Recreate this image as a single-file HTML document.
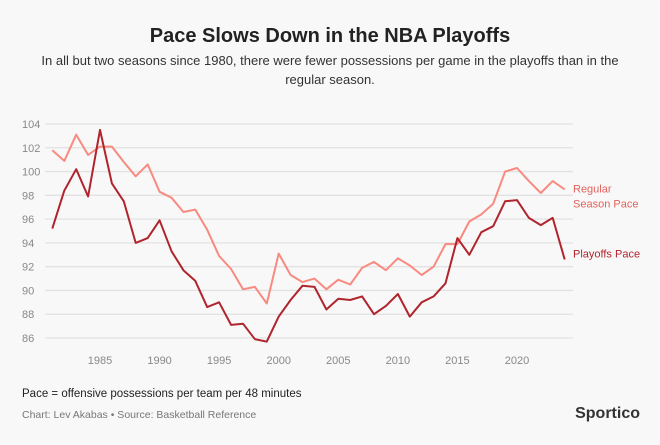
<!DOCTYPE html>
<html><head><meta charset="utf-8"><style>
body{margin:0;background:#f8f8f8;font-family:"Liberation Sans",sans-serif;}
#wrap{position:relative;width:660px;height:445px;background:#f8f8f8;overflow:hidden;}
</style></head><body>
<div id="wrap">
<svg id="chart" width="660" height="445">
<text x="330" y="42" text-anchor="middle" font-size="20" font-weight="bold" fill="#222">Pace Slows Down in the NBA Playoffs</text>
<text x="330" y="65" text-anchor="middle" font-size="13" fill="#333">In all but two seasons since 1980, there were fewer possessions per game in the playoffs than in the</text>
<text x="330" y="84" text-anchor="middle" font-size="13" fill="#333">regular season.</text>
<g id="grid"></g><g id="lines"></g>
<text x="22" y="397" font-size="11.5" fill="#222">Pace = offensive possessions per team per 48 minutes</text>
<text x="22" y="418" font-size="10.5" fill="#777">Chart: Lev Akabas • Source: Basketball Reference</text>
<text x="640" y="418" text-anchor="end" font-size="16" font-weight="bold" fill="#333">Sportico</text>
</svg>
</div>
<script>
const years=[1981,1982,1983,1984,1985,1986,1987,1988,1989,1990,1991,1992,1993,1994,1995,1996,1997,1998,1999,2000,2001,2002,2003,2004,2005,2006,2007,2008,2009,2010,2011,2012,2013,2014,2015,2016,2017,2018,2019,2020,2021,2022,2023,2024];
const regular=[101.8,100.9,103.1,101.4,102.1,102.1,100.8,99.6,100.6,98.3,97.8,96.6,96.8,95.1,92.9,91.8,90.1,90.3,88.9,93.1,91.3,90.7,91.0,90.1,90.9,90.5,91.9,92.4,91.7,92.7,92.1,91.3,92.0,93.9,93.9,95.8,96.4,97.3,100.0,100.3,99.2,98.2,99.2,98.5];
const playoffs=[95.2,98.4,100.2,97.9,103.5,99.0,97.5,94.0,94.4,95.9,93.3,91.7,90.8,88.6,89.0,87.1,87.2,85.9,85.7,87.8,89.2,90.4,90.3,88.4,89.3,89.2,89.5,88.0,88.7,89.7,87.8,89.0,89.5,90.6,94.4,93.0,94.9,95.4,97.5,97.6,96.1,95.5,96.1,92.6];
const yTicks=[86,88,90,92,94,96,98,100,102,104];
const xTicks=[1985,1990,1995,2000,2005,2010,2015,2020];
const NS="http://www.w3.org/2000/svg";
const x=v=>100+(v-1985)*(417/35);
const y=v=>338-(v-86)*(214/18);
const grid=document.getElementById('grid'),lines=document.getElementById('lines');
function mk(tag,attrs,parent){const e=document.createElementNS(NS,tag);for(const k in attrs)e.setAttribute(k,attrs[k]);parent.appendChild(e);return e;}
yTicks.forEach(t=>{
 const l=mk('line',{x1:45,x2:573,y1:y(t),y2:y(t),stroke:'#e2e2e2','stroke-width':1.3},grid);
 
 
 const tx=mk('text',{x:22,y:y(t)+4,'font-size':11,fill:'#888'},grid);tx.textContent=t;
 
 
});
xTicks.forEach(t=>{
 const tx=mk('text',{x:x(t),y:364,'font-size':11,fill:'#888','text-anchor':'middle'},grid);tx.textContent=t;
 
 
});
function path(vals,color,name){
 const d=vals.map((v,i)=>(i?'L':'M')+x(years[i]).toFixed(1)+','+y(v).toFixed(1)).join('');
 const p=mk('path',{d:d,fill:'none',stroke:color,'stroke-width':2,'stroke-linejoin':'round'},lines);
 
 
}
path(regular,'#f98a80','regular-season-line');
path(playoffs,'#b0252d','playoffs-line');
const last=years.length-1;
const l1=mk('text',{x:573,y:y(regular[last])+3,'font-size':11,fill:'#e0625c'},lines);l1.textContent='Regular';


const l2=mk('text',{x:573,y:y(regular[last])+18,'font-size':11,fill:'#e0625c'},lines);l2.textContent='Season Pace';


const l3=mk('text',{x:573,y:y(playoffs[last])-2,'font-size':11,fill:'#b0252d'},lines);l3.textContent='Playoffs Pace';


</script>
</body></html>
